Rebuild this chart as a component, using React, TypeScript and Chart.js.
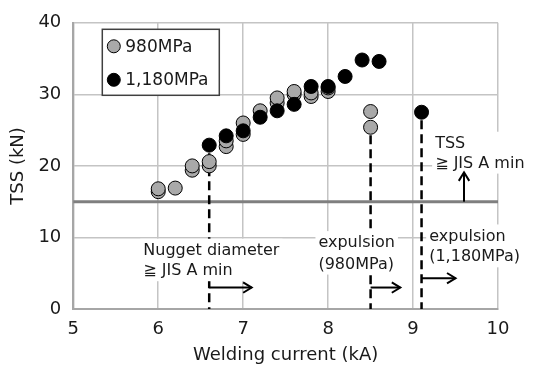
import React, { useEffect, useRef } from "react";
import { Chart, registerables } from "chart.js";

Chart.register(...registerables);

// ---- data ----
const seriesLabels = ["980MPa", "1,180MPa"];

const current980 = [6.0, 6.0, 6.2, 6.4, 6.4, 6.6, 6.6, 6.8, 6.8, 7.0, 7.0, 7.2, 7.4, 7.4, 7.6, 7.6, 7.8, 7.8, 8.0, 8.0, 8.5, 8.5];
const tss980 = [16.4, 16.8, 16.9, 19.4, 20.0, 20.0, 20.6, 22.7, 23.5, 24.4, 26.0, 27.7, 28.8, 29.5, 30.0, 30.4, 29.7, 30.2, 30.4, 30.9, 25.4, 27.6];

const current1180 = [6.6, 6.8, 7.0, 7.2, 7.4, 7.6, 7.8, 8.0, 8.2, 8.4, 8.6, 9.1];
const tss1180 = [22.9, 24.2, 24.9, 26.8, 27.7, 28.6, 31.1, 31.1, 32.5, 34.8, 34.6, 27.5];

const xTicks = [5, 6, 7, 8, 9, 10];
const yTicks = [0, 10, 20, 30, 40];

const tssMin = 15; // JIS A min TSS

// dashed limit lines: [current, tss at top point]
const limitCurrents = [6.6, 8.5, 9.1];
const limitTops = [22.9, 25.4, 27.5];

// horizontal arrows: start current, end current, tss level
const arrowStarts = [6.6, 8.5, 9.1];
const arrowEnds = [7.1, 8.85, 9.5];
const arrowLevels = [3.0, 3.0, 4.3];

// vertical TSS arrow
const tssArrowCurrent = 9.6;
const tssArrowTop = 19.1;

// annotation texts (anchor: left current, line centre tss values)
const noteTexts = [
  ["Nugget diameter", "≧ JIS A min"],
  ["expulsion", "(980MPa)"],
  ["expulsion", "(1,180MPa)"],
  ["TSS", "≧ JIS A min"],
];
const noteX = [5.824, 7.886, 9.19, 9.26];
const noteY = [
  [8.29, 5.42],
  [9.35, 6.35],
  [10.28, 7.36],
  [23.24, 20.46],
];

const FONT = '"DejaVu Sans", Verdana, sans-serif';
const GRAY_MARK = "#a9a9a9";

function drawArrowHead(ctx: CanvasRenderingContext2D, x: number, y: number, ang: number) {
  const len = 10, spread = 0.55;
  ctx.beginPath();
  ctx.moveTo(x - len * Math.cos(ang - spread), y - len * Math.sin(ang - spread));
  ctx.lineTo(x, y);
  ctx.lineTo(x - len * Math.cos(ang + spread), y - len * Math.sin(ang + spread));
  ctx.stroke();
}

const annoPlugin = {
  id: "anno",
  beforeDatasetsDraw(chart: any) {
    const { ctx, chartArea } = chart;
    const xs = chart.scales.x;
    const ys = chart.scales.y;
    ctx.save();
    // threshold line
    const ty = ys.getPixelForValue(tssMin);
    ctx.strokeStyle = "#7f7f7f";
    ctx.lineWidth = 3;
    ctx.beginPath();
    ctx.moveTo(chartArea.left, ty);
    ctx.lineTo(chartArea.right, ty);
    ctx.stroke();

    // dashed limit lines
    ctx.strokeStyle = "#000";
    ctx.lineWidth = 2.5;
    ctx.setLineDash([9, 5]);
    limitCurrents.forEach((c, i) => {
      const px = xs.getPixelForValue(c);
      ctx.beginPath();
      ctx.moveTo(px, ys.getPixelForValue(limitTops[i]) + 8);
      ctx.lineTo(px, ys.getPixelForValue(0));
      ctx.stroke();
    });
    ctx.setLineDash([]);

    // text boxes
    ctx.font = `16px ${FONT}`;
    ctx.textBaseline = "middle";
    ctx.textAlign = "left";
    noteTexts.forEach((lines, i) => {
      const left = xs.getPixelForValue(noteX[i]);
      const ysP = noteY[i].map((v) => ys.getPixelForValue(v));
      const w = Math.max(...lines.map((l) => ctx.measureText(l).width));
      ctx.fillStyle = "#fff";
      ctx.fillRect(left - 3, Math.min(...ysP) - 11, w + 6, Math.max(...ysP) - Math.min(...ysP) + 22);
      ctx.fillStyle = "#1a1a1a";
      lines.forEach((l, j) => ctx.fillText(l, left, ysP[j] + 1));
    });

    // horizontal arrows
    ctx.strokeStyle = "#000";
    ctx.lineWidth = 2;
    arrowStarts.forEach((s, i) => {
      const x0 = xs.getPixelForValue(s);
      const x1 = xs.getPixelForValue(arrowEnds[i]);
      const yy = ys.getPixelForValue(arrowLevels[i]);
      ctx.beginPath();
      ctx.moveTo(x0, yy);
      ctx.lineTo(x1, yy);
      ctx.stroke();
      drawArrowHead(ctx, x1, yy, 0);
    });
    // vertical TSS arrow
    const ax = xs.getPixelForValue(tssArrowCurrent);
    const ay0 = ys.getPixelForValue(tssMin);
    const ay1 = ys.getPixelForValue(tssArrowTop);
    ctx.beginPath();
    ctx.moveTo(ax, ay0);
    ctx.lineTo(ax, ay1);
    ctx.stroke();
    drawArrowHead(ctx, ax, ay1, -Math.PI / 2);
    ctx.restore();
  },
  afterDraw(chart: any) {
    const { ctx, chartArea } = chart;
    ctx.save();
    const bx = chartArea.left + 29;
    const by = chartArea.top + 6.5;
    const bw = 117;
    const bh = 66;
    ctx.fillStyle = "#fff";
    ctx.fillRect(bx, by, bw, bh);
    ctx.strokeStyle = "#404040";
    ctx.lineWidth = 1.5;
    ctx.strokeRect(bx, by, bw, bh);
    const fills = [GRAY_MARK, "#000"];
    const rowY = [by + 17, by + 50.5];
    ctx.font = `17px ${FONT}`;
    ctx.textBaseline = "middle";
    ctx.textAlign = "left";
    seriesLabels.forEach((lab, i) => {
      ctx.beginPath();
      ctx.arc(bx + 11.5, rowY[i], 6.5, 0, Math.PI * 2);
      ctx.fillStyle = fills[i];
      ctx.fill();
      ctx.lineWidth = 1;
      ctx.strokeStyle = "#000";
      ctx.stroke();
      ctx.fillStyle = "#1a1a1a";
      ctx.fillText(lab, bx + 23, rowY[i] + 1);
    });
    ctx.restore();
  },
};

export default function App() {
  const ref = useRef<HTMLCanvasElement | null>(null);
  useEffect(() => {
    document.body.style.margin = "0";
    const canvas = ref.current;
    if (!canvas) return;
    const chart = new Chart(canvas, {
      type: "scatter",
      data: {
        datasets: [
          {
            label: seriesLabels[0],
            data: current980.map((x, i) => ({ x, y: tss980[i] })),
            backgroundColor: GRAY_MARK,
            borderColor: "#000",
            borderWidth: 1,
            pointRadius: 7,
            order: 1,
          },
          {
            label: seriesLabels[1],
            data: current1180.map((x, i) => ({ x, y: tss1180[i] })),
            backgroundColor: "#000",
            borderColor: "#000",
            borderWidth: 1,
            pointRadius: 7,
            order: 0,
          },
        ],
      },
      options: {
        responsive: false,
        animation: false,
        layout: { padding: { top: 21, right: 37, left: 0, bottom: 0 } },
        plugins: { legend: { display: false }, tooltip: { enabled: false } },
        scales: {
          x: {
            type: "linear",
            min: xTicks[0],
            max: xTicks[xTicks.length - 1],
            afterBuildTicks: (s: any) => {
              s.ticks = xTicks.map((v) => ({ value: v }));
            },
            afterFit: (s: any) => {
              s.height = 56;
            },
            grid: { color: "#c4c4c4", lineWidth: 1.5, drawTicks: false },
            border: { color: "#a6a6a6", width: 2 },
            ticks: { padding: 10, color: "#1a1a1a", font: { family: FONT, size: 18 } },
            title: {
              display: true,
              text: "Welding current (kA)",
              color: "#1a1a1a",
              font: { family: FONT, size: 18, lineHeight: 1.1 },
              padding: { top: 0, bottom: 0 },
            },
          },
          y: {
            type: "linear",
            min: yTicks[0],
            max: yTicks[yTicks.length - 1],
            afterBuildTicks: (s: any) => {
              s.ticks = yTicks.map((v) => ({ value: v }));
            },
            afterFit: (s: any) => {
              s.width = 73.3;
            },
            grid: { color: "#c4c4c4", lineWidth: 1.5, drawTicks: false },
            border: { color: "#a6a6a6", width: 2 },
            ticks: { padding: 12, color: "#1a1a1a", font: { family: FONT, size: 18 } },
            title: {
              display: true,
              text: "TSS (kN)",
              color: "#1a1a1a",
              font: { family: FONT, size: 18, lineHeight: 1.2 },
              padding: { top: 7.5, bottom: 0 },
            },
          },
        },
      },
      plugins: [annoPlugin],
    } as any);
    return () => chart.destroy();
  }, []);
  return (
    <div style={{ width: 535, height: 365 }}>
      <canvas ref={ref} width={535} height={365} style={{ display: "block" }} />
    </div>
  );
}
